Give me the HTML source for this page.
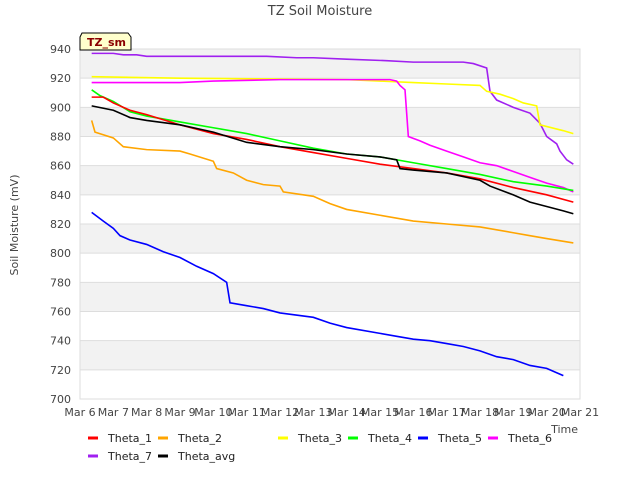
<!DOCTYPE html>
<html><head><meta charset="utf-8"><style>
body{margin:0;background:#fff;font-family:"Liberation Sans","DejaVu Sans",sans-serif}
svg text{font-family:"DejaVu Sans","Liberation Sans",sans-serif}
</style></head><body>
<svg id="c" width="640" height="480" viewBox="0 0 640 480" xmlns="http://www.w3.org/2000/svg">
<text x="320" y="15" text-anchor="middle" font-size="13" fill="#444">TZ Soil Moisture</text>
<g id="grid"></g><g id="series"></g><g id="axes"></g>
<g>
<path d="M82,33 L128,33 L131,37 L131,50 L80,50 L80,37 Z" fill="#ffffcc" stroke="#000" stroke-width="1"/>
<text x="87" y="46" font-size="11" font-weight="bold" fill="#8b0000">TZ_sm</text></g>
<text x="18" y="225" font-size="11" fill="#444" text-anchor="middle" transform="rotate(-90 18 225)">Soil Moisture (mV)</text>
<text x="578" y="433" font-size="11" fill="#444" text-anchor="end">Time</text>
<g id="legend"></g>
</svg>
<script>
const xTicks=["Mar 6","Mar 7","Mar 8","Mar 9","Mar 10","Mar 11","Mar 12","Mar 13","Mar 14","Mar 15","Mar 16","Mar 17","Mar 18","Mar 19","Mar 20","Mar 21"];
const yTicks=[700,720,740,760,780,800,820,840,860,880,900,920,940];
const names=["Theta_1","Theta_2","Theta_3","Theta_4","Theta_5","Theta_6","Theta_7","Theta_avg"];
const colors=["#ff0000","#ffa500","#ffff00","#00ff00","#0000ff","#ff00ff","#a020f0","#000000"];
const theta1=[[0.35,907],[0.7,907],[1,903],[1.5,898],[2,895],[3,888],[4,882],[5,878],[6,873],[7,869],[8,865],[9,861],[10,858],[11,855],[12,851],[13,845],[14,840],[14.8,835]];
const theta2=[[0.35,891],[0.45,883],[1,879],[1.3,873],[2,871],[3,870],[3.3,868],[4,863],[4.1,858],[4.6,855],[5,850],[5.5,847],[6,846],[6.1,842],[7,839],[7.5,834],[8,830],[9,826],[10,822],[11,820],[12,818],[13,814],[13.5,812],[14,810],[14.8,807]];
const theta3=[[0.35,921],[3,920],[8,919],[9,918],[10,917],[11,916],[12,915],[12.2,911],[12.6,909],[13,906],[13.3,903],[13.7,901],[13.8,888],[14.5,884],[14.8,882]];
const theta4=[[0.35,912],[0.6,908],[1,904],[1.5,897],[2,894],[3,890],[4,886],[5,882],[6,877],[7,872],[8,868],[9,866],[10,862],[11,858],[12,854],[13,849],[14,846],[14.8,843]];
const theta5=[[0.35,828],[0.7,822],[1,817],[1.2,812],[1.5,809],[2,806],[2.5,801],[3,797],[3.5,791],[4,786],[4.4,780],[4.5,766],[5,764],[5.5,762],[6,759],[7,756],[7.5,752],[8,749],[9,745],[9.5,743],[10,741],[10.5,740],[11,738],[11.5,736],[12,733],[12.5,729],[13,727],[13.5,723],[14,721],[14.3,718],[14.5,716]];
const theta6=[[0.35,917],[2.5,917],[3,917],[4,918],[6,919],[9.3,919],[9.5,918],[9.6,915],[9.75,912],[9.85,880],[10.2,877],[10.5,874],[11,870],[11.5,866],[12,862],[12.5,860],[13,856],[13.5,852],[14,848],[14.5,845],[14.8,842]];
const theta7=[[0.35,937],[1,937],[1.3,936],[1.7,936],[2,935],[5.6,935],[6.5,934],[7,934],[8,933],[9.2,932],[10,931],[11,931],[11.5,931],[11.8,930],[12.2,927],[12.3,911],[12.5,905],[13,900],[13.5,896],[13.8,889],[14,880],[14.3,875],[14.4,870],[14.6,864],[14.8,861]];
const thetaAvg=[[0.35,901],[1,898],[1.5,893],[2,891],[3,888],[4,883],[5,876],[6,873],[7,871],[8,868],[9,866],[9.5,864],[9.6,858],[10,857],[11,855],[12,850],[12.3,846],[13,840],[13.5,835],[14,832],[14.5,829],[14.8,827]];
const NS="http://www.w3.org/2000/svg";
const X0=80,X1=580,Y0=399,Y1=49;
const xs=d=>X0+(X1-X0)*d/15;
const ys=v=>Y0-(Y0-Y1)*(v-700)/240;
function mk(t,a,p){const e=document.createElementNS(NS,t);for(const k in a)e.setAttribute(k,a[k]);p.appendChild(e);return e;}
const grid=document.getElementById('grid'),axes=document.getElementById('axes'),ser=document.getElementById('series'),leg=document.getElementById('legend');
for(let i=0;i<yTicks.length-1;i++){if(i%2===1){const r=mk('rect',{x:X0,y:ys(yTicks[i+1]),width:X1-X0,height:ys(yTicks[i])-ys(yTicks[i+1]),fill:'#f2f2f2'},grid);}}
yTicks.forEach(v=>{const l=mk('line',{x1:X0,x2:X1,y1:ys(v),y2:ys(v),stroke:'#ddd'},grid);
const t=mk('text',{x:X0-9,y:ys(v)+4,'text-anchor':'end','font-size':11,fill:'#444'},axes);t.textContent=v;});
const fr=mk('rect',{x:X0,y:Y1,width:X1-X0,height:Y0-Y1,fill:'none',stroke:'#ddd'},axes);
xTicks.forEach((s,i)=>{const t=mk('text',{x:xs(i),y:416,'text-anchor':'middle','font-size':11,fill:'#444'},axes);t.textContent=s;});
const data=[theta1,theta2,theta3,theta4,theta5,theta6,theta7,thetaAvg];
const order=[6,2,5,1,3,0,7,4];
order.forEach(i=>{const pts=data[i].map(p=>xs(p[0])+','+ys(p[1]));
const pl=mk('polyline',{points:pts.join(' '),fill:'none',stroke:colors[i],'stroke-width':1.6},ser);

});
const lx=[88,158,278,348,418,488,88,158],ly=[442,442,442,442,442,442,460,460];
names.forEach((n,i)=>{const g=mk('g',{},leg);
mk('line',{x1:lx[i],x2:lx[i]+10,y1:ly[i]-4,y2:ly[i]-4,stroke:colors[i],'stroke-width':3},g);
const t=mk('text',{x:lx[i]+20,y:ly[i],'font-size':11,fill:'#222'},g);t.textContent=n;});
</script>
</body></html>
